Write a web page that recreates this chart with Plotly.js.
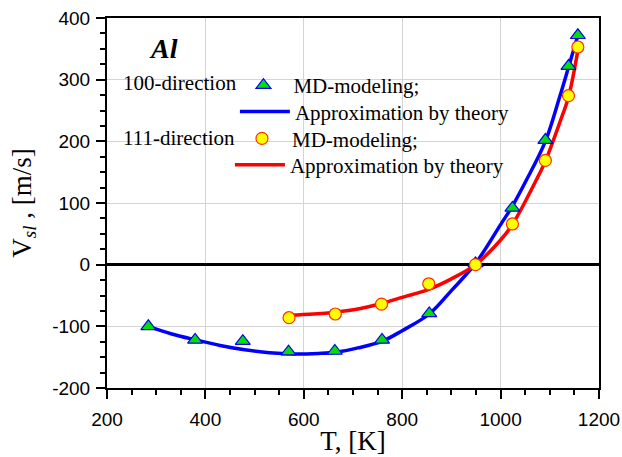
<!DOCTYPE html>
<html>
<head>
<meta charset="utf-8">
<script src="https://cdn.plot.ly/plotly-3.0.1.min.js"></script>
<style>html,body{margin:0;padding:0;background:#fff;}#chart{width:622px;height:457px;}</style>
</head>
<body>
<div id="chart"></div>
<script>
// MD-modeling, 100-direction
const T100 = [284, 379, 476, 569, 663, 759, 855, 949, 1024, 1091, 1138, 1157];
const V100 = [-100, -122, -124, -141, -140, -122, -79, 2, 92, 202, 322, 372];
// MD-modeling, 111-direction
const T111 = [570, 664, 758, 854, 949, 1024, 1091, 1138, 1157];
const V111 = [-86, -80, -64, -31, 0, 66, 169, 274, 353];
// Approximation by theory, 100-direction
const fitT100 = [284, 330, 380, 430, 480, 530, 580, 630, 665, 710, 760, 800, 855, 900, 949, 1000, 1024, 1053, 1091, 1120, 1138, 1158];
const fitV100 = [-100, -112, -122, -131, -138, -143, -145, -144, -142, -135, -124, -107, -80, -42, 2, 65, 95, 138, 200, 272, 320, 374];
// Approximation by theory, 111-direction
const fitT111 = [570, 620, 664, 710, 758, 800, 854, 900, 949, 1000, 1024, 1073, 1091, 1120, 1138, 1158];
const fitV111 = [-82, -80, -77, -72, -63, -53, -40, -23, 0, 40, 65, 138, 168, 230, 272, 352];
// axis ticks
const yTickVals = [-200, -100, 0, 100, 200, 300, 400];
const yTickText = ['-200', '-100', '0', '100', '200', '300', '400'];

const serif = 'Liberation Serif, Times New Roman, serif';
const sans = 'Liberation Sans, Arial, sans-serif';

const mdBlue = {x: T100, y: V100, mode: 'markers', name: 'MD-modeling;', legend: 'legend',
   marker: {symbol: 'triangle-up', size: 13, color: '#00e000', line: {color: '#0000ff', width: 1.2}}};
const fitBlue = {x: fitT100, y: fitV100, mode: 'lines', name: 'Approximation by theory', legend: 'legend2',
   line: {color: '#0000ff', width: 3.5, shape: 'spline', smoothing: 1}};
const mdRed = {x: T111, y: V111, mode: 'markers', name: 'MD-modeling;', legend: 'legend3',
   marker: {symbol: 'circle', size: 12, color: '#ffff00', line: {color: '#ff3000', width: 1.2}}};
const fitRed = {x: fitT111, y: fitV111, mode: 'lines', name: 'Approximation by theory', legend: 'legend4',
   line: {color: '#ff0000', width: 3.5, shape: 'spline', smoothing: 1}};
const data = [fitBlue, fitRed, mdBlue, mdRed];

function leg(x, y) {
  return {x: x, xanchor: 'left', y: y, yanchor: 'top',
    font: {family: serif, size: 21, color: '#000'},
    bgcolor: 'rgba(0,0,0,0)', itemwidth: 50};
}

const layout = {
  width: 622, height: 457,
  margin: {l: 107, r: 23, t: 18, b: 69},
  paper_bgcolor: '#fff', plot_bgcolor: '#fff',
  showlegend: true,
  legend: leg(0.257, 0.8730),
  legend2: leg(0.26, 0.8020),
  legend3: leg(0.254, 0.7290),
  legend4: leg(0.2498, 0.6580),
  xaxis: {
    range: [200, 1200], tickmode: 'linear', tick0: 200, dtick: 200,
    showline: true, linecolor: '#000', linewidth: 2, mirror: true,
    ticks: 'outside', ticklen: 9, tickwidth: 2, tickcolor: '#000',
    showgrid: true, gridcolor: '#d4d4d4', gridwidth: 1, zeroline: false,
    tickfont: {family: sans, size: 19, color: '#000'},
    ticklabelstandoff: 4,
    minor: {tick0: 200, dtick: 50, ticks: 'outside', ticklen: 5, tickwidth: 2, tickcolor: '#000', showgrid: false},
    title: {text: 'T, [K]', font: {family: serif, size: 27, color: '#000'}, standoff: 2}
  },
  yaxis: {
    range: [-200, 400], tickmode: 'array', tickvals: yTickVals, ticktext: yTickText,
    showline: true, linecolor: '#000', linewidth: 2, mirror: true,
    ticks: 'outside', ticklen: 9, tickwidth: 2, tickcolor: '#000',
    showgrid: true, gridcolor: '#d4d4d4', gridwidth: 1,
    zeroline: true, zerolinecolor: '#000', zerolinewidth: 3,
    tickfont: {family: sans, size: 19, color: '#000'},
    ticklabelstandoff: 2,
    minor: {tick0: 0, dtick: 25, ticks: 'outside', ticklen: 5, tickwidth: 2, tickcolor: '#000', showgrid: false},
    title: {text: 'V<sub><i>sl</i></sub> , [m/s]', font: {family: serif, size: 27, color: '#000'}, standoff: 13}
  },
  annotations: [
    {xref: 'paper', yref: 'paper', x: 0.115, y: 0.918, xanchor: 'center', yanchor: 'middle',
     text: '<b><i>Al</i></b>', showarrow: false, font: {family: serif, size: 28, color: '#000'}},
    {xref: 'paper', yref: 'paper', x: 0.0285, y: 0.8256, xanchor: 'left', yanchor: 'middle',
     text: '100-direction', showarrow: false, font: {family: serif, size: 21, color: '#000'}},
    {xref: 'paper', yref: 'paper', x: 0.0285, y: 0.677, xanchor: 'left', yanchor: 'middle',
     text: '111-direction', showarrow: false, font: {family: serif, size: 21, color: '#000'}}
  ]
};

Plotly.newPlot('chart', data, layout, {displayModeBar: false, staticPlot: true});
</script>
</body>
</html>
